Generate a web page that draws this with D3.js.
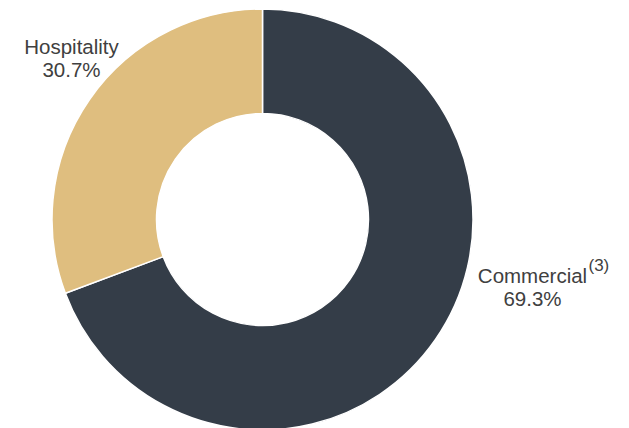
<!DOCTYPE html>
<html>
<head>
<meta charset="utf-8">
<script src="https://cdn.jsdelivr.net/npm/d3@7"></script>
<style>
  html, body { margin: 0; padding: 0; background: #ffffff; }
  svg { display: block; }
</style>
</head>
<body>
<div id="chart"></div>
<script>
// data
let categories = ["Commercial", "Hospitality"];
let shares     = [69.3, 30.7];
let notes      = ["(3)", ""];
let colors     = ["#343d48", "#dfbe7f"];

let W = 629, H = 428;
let cx = 262.5, cy = 219.5;
let outerR = 210.5, innerR = 106;

// label anchors, relative to centre (placed by hand like the original)
let labelPos = [ [270, 63], [-191, -166] ];

let svg = d3.select("#chart")
            .append("svg")
                .attr("width", W)
                .attr("height", H);

let g = svg.append("g")
            .attr("transform", "translate(" + cx + "," + cy + ")");

let pie = d3.pie()
            .sort(null)
            .value((d)=>{ return d.value; });

let arc = d3.arc()
            .innerRadius(innerR)
            .outerRadius(outerR);

let rows = categories.map((c, i)=>{
    return { name: c, value: shares[i], note: notes[i], color: colors[i], pos: labelPos[i] };
});

let arcs = pie(rows);

g.selectAll("path")
    .data(arcs)
    .enter()
        .append("path")
            .attr("d", arc)
            .attr("fill", (d)=>{ return d.data.color; })
            .attr("stroke", "#ffffff")
            .attr("stroke-width", 1.5);

let lbl = g.selectAll("text.lbl")
    .data(arcs)
    .enter()
        .append("text")
            .attr("class", "lbl")
            .attr("text-anchor", "middle")
            .style("font-family", "'Liberation Sans', Arial, sans-serif")
            .style("font-size", "20.5px")
            .attr("fill", "#404040")
            .attr("transform", (d)=>{ return "translate(" + d.data.pos[0] + "," + d.data.pos[1] + ")"; });

lbl.append("tspan")
    .attr("x", 0)
    .attr("dy", 0)
    .text((d)=>{ return d.data.name; });

lbl.append("tspan")
    .attr("x", 0)
    .attr("dy", 23.5)
    .text((d)=>{ return d.data.value.toFixed(1) + "%"; });

// superscript footnote marker, drawn separately so the main text stays centred
g.selectAll("text.note")
    .data(arcs.filter((d)=>{ return d.data.note; }))
    .enter()
        .append("text")
            .attr("class", "note")
            .style("font-family", "'Liberation Sans', Arial, sans-serif")
            .style("font-size", "17px")
            .attr("fill", "#404040")
            .attr("x", (d)=>{ return d.data.pos[0] + 56; })
            .attr("y", (d)=>{ return d.data.pos[1] - 12; })
            .text((d)=>{ return d.data.note; });
</script>
</body>
</html>
